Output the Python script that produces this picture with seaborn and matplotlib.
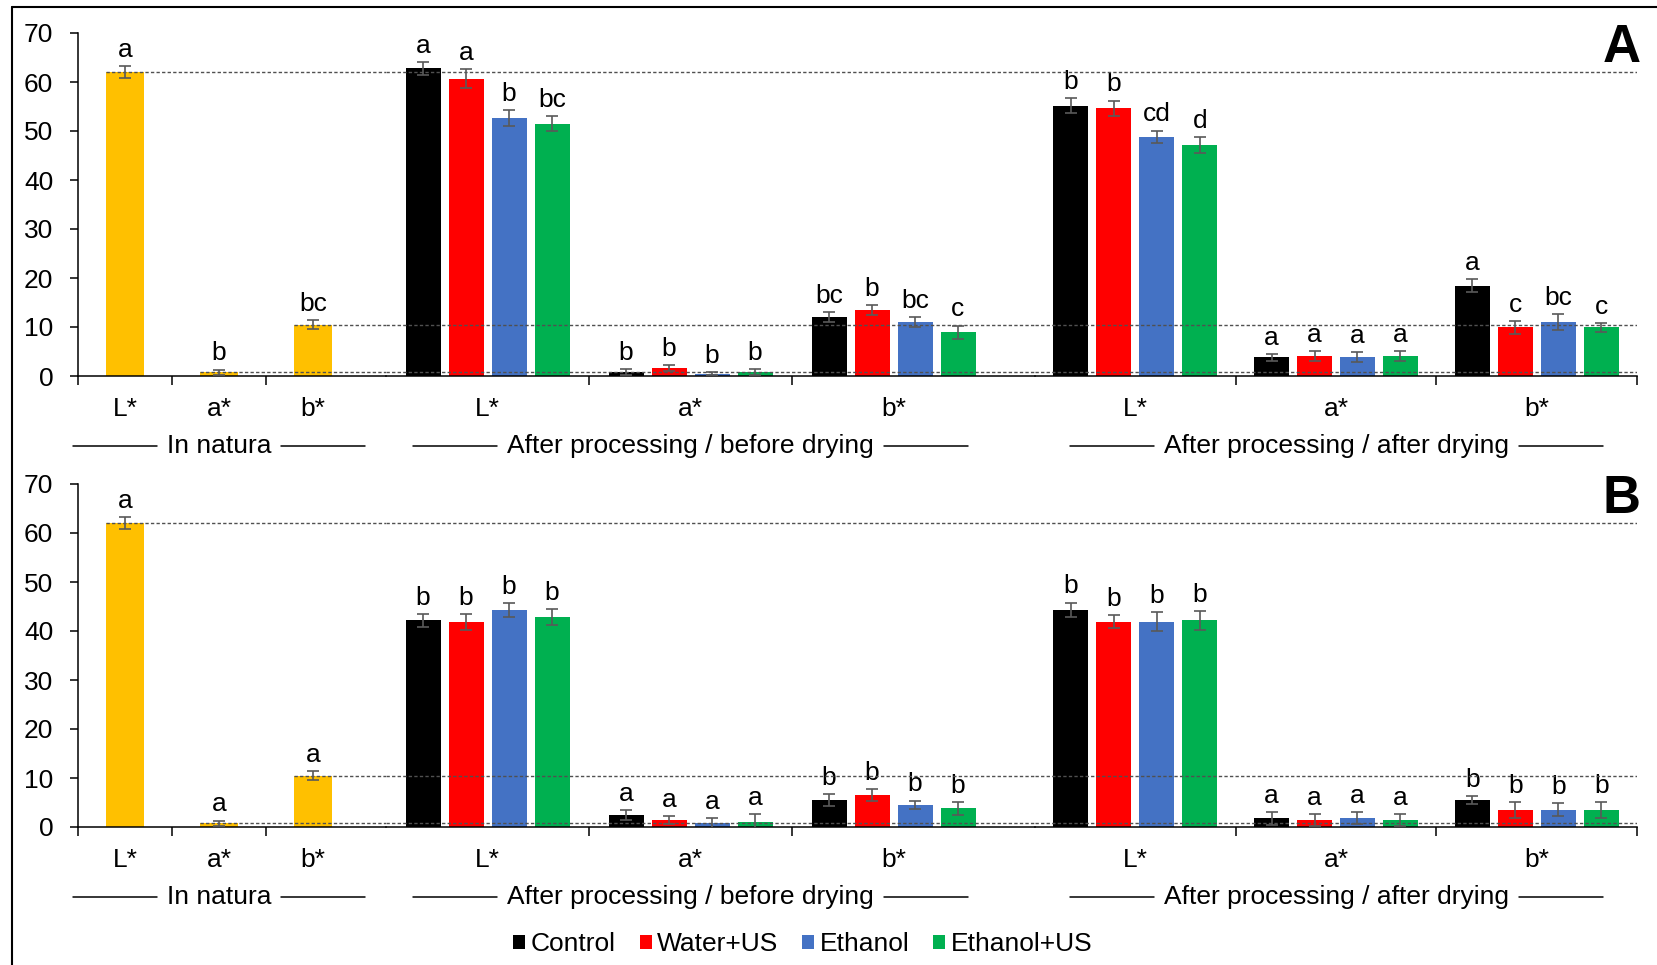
import pandas as pd
import matplotlib.pyplot as plt
from matplotlib.lines import Line2D
from matplotlib.patches import Patch
import seaborn as sns

sns.set_style("ticks")
plt.rcParams.update(
    {
        "font.family": ["Liberation Sans", "DejaVu Sans"],
        "font.size": 19,
        "axes.linewidth": 1.1,
        "axes.edgecolor": "black",
        "text.color": "black",
        "xtick.color": "black",
        "ytick.color": "black",
    }
)

# ── Data ──────────────────────────────────────────────────────────────────────
ATTRS = ["L*", "a*", "b*"]
TREATMENTS = ["Control", "Water+US", "Ethanol", "Ethanol+US"]
STAGES = ["In natura", "After processing / before drying", "After processing / after drying"]

NATURA_MEAN = [62.0, 0.8, 10.5]
NATURA_SD = [1.2, 0.5, 0.9]
A_NATURA_LET = ["a", "b", "bc"]
B_NATURA_LET = ["a", "a", "a"]

# rows = treatments, cols = L*, a*, b*
A_BEFORE_MEAN = [[62.8, 0.75, 12.0], [60.7, 1.6, 13.4], [52.6, 0.5, 11.0], [51.5, 0.75, 8.9]]
A_BEFORE_SD = [[1.3, 0.6, 1.0], [1.9, 0.6, 1.0], [1.6, 0.3, 1.0], [1.5, 0.6, 1.4]]
A_BEFORE_LET = [["a", "b", "bc"], ["a", "b", "b"], ["b", "b", "bc"], ["bc", "b", "c"]]
A_AFTER_MEAN = [[55.2, 3.8, 18.4], [54.6, 4.15, 9.9], [48.8, 3.8, 11.0], [47.1, 4.15, 9.9]]
A_AFTER_SD = [[1.6, 0.7, 1.3], [1.6, 1.0, 1.3], [1.3, 1.0, 1.7], [1.6, 1.0, 0.95]]
A_AFTER_LET = [["b", "a", "a"], ["b", "a", "c"], ["cd", "a", "bc"], ["d", "a", "c"]]

B_BEFORE_MEAN = [[42.2, 2.45, 5.5], [41.9, 1.4, 6.5], [44.3, 0.75, 4.5], [42.9, 1.1, 3.8]]
B_BEFORE_SD = [[1.3, 0.95, 1.2], [1.6, 0.8, 1.2], [1.4, 1.1, 0.9], [1.6, 1.5, 1.3]]
B_BEFORE_LET = [["b", "a", "b"]] * 4
B_AFTER_MEAN = [[44.3, 1.8, 5.5], [41.9, 1.4, 3.5], [41.9, 1.8, 3.5], [42.2, 1.4, 3.5]]
B_AFTER_SD = [[1.5, 1.3, 0.8], [1.3, 1.2, 1.6], [1.9, 1.2, 1.3], [1.9, 1.2, 1.6]]
B_AFTER_LET = [["b", "a", "b"]] * 4

# ── Palette / layout ──────────────────────────────────────────────────────────
C_NATURA = "#FFC000"
PALETTE = ["#000000", "#FF0000", "#4472C4", "#00B050"]
C_ERR = "#595959"
C_REF = "#505050"

W, H = 1657, 965
# region pixel extents and category slot width (px)
REGIONS = [(78, 386, 94.0), (386, 1035, 203.0), (1035, 1637, 200.7)]
BAR_STEP, BAR_W = 43.0, 35.0
FS = 19


def fx(px):
    return px / W


def fy(py):
    return 1 - py / H


def long_frame(mean, sd, letters):
    rows = []
    for t, m_row, s_row, l_row in zip(TREATMENTS, mean, sd, letters):
        for a, m, s, l in zip(ATTRS, m_row, s_row, l_row):
            rows.append({"treatment": t, "attr": a, "value": m, "sd": s, "letter": l})
    return pd.DataFrame(rows)


def annotate(ax, container, sds, letters):
    for bar, s, l in zip(container, sds, letters):
        cx = bar.get_x() + bar.get_width() / 2
        h = bar.get_height()
        ax.errorbar(cx, h, yerr=s, fmt="none", ecolor=C_ERR, elinewidth=1.2,
                    capsize=4, capthick=1.2, zorder=5)
        ax.annotate(l, (cx, h + s), xytext=(0, 3), textcoords="offset points",
                    ha="center", va="bottom", fontsize=FS)


group_texts = []


def draw_panel(top, bottom, tag, natura_let, before, after):
    for k, (x0, x1, slot) in enumerate(REGIONS):
        ax = fig.add_axes([fx(x0), fy(bottom), fx(x1) - fx(x0), fy(top) - fy(bottom)])
        ax.patch.set_alpha(0)
        if k == 0:
            df = pd.DataFrame({"attr": ATTRS, "value": NATURA_MEAN})
            sns.barplot(data=df, x="attr", y="value", order=ATTRS, color=C_NATURA,
                        width=0.4, errorbar=None, saturation=1, linewidth=0, ax=ax)
            annotate(ax, list(ax.containers)[0], NATURA_SD, natura_let)
        else:
            mean, sd, let = before if k == 1 else after
            df = long_frame(mean, sd, let)
            sns.barplot(data=df, x="attr", y="value", hue="treatment", order=ATTRS,
                        hue_order=TREATMENTS, palette=PALETTE, width=4 * BAR_STEP / slot,
                        gap=1 - BAR_W / BAR_STEP, errorbar=None, saturation=1,
                        linewidth=0, legend=False, ax=ax)
            bar_conts = list(ax.containers)
            for i, cont in enumerate(bar_conts):
                sub = df[df["treatment"] == TREATMENTS[i]].set_index("attr").loc[ATTRS]
                annotate(ax, cont, sub["sd"].tolist(), sub["letter"].tolist())

        xmax = -0.5 + (x1 - x0) / slot
        ax.set_xlim(-0.5, xmax)
        ax.set_ylim(0, 70)
        ax.set_xlabel("")
        ax.set_ylabel("")

        # reference lines from the in natura means
        for j, ref in enumerate(NATURA_MEAN):
            xs = j - 0.2 if k == 0 else -0.5
            ax.hlines(ref, xs, xmax, colors=C_REF, linewidth=1.0,
                      linestyles=(0, (2.4, 1.6)), zorder=4)

        if k == 0:
            major = [-0.5, 0.5, 1.5]
        elif k == 1:
            major = [0.5, 1.5]
        else:
            major = [0.5, 1.5, 2.5]
        ax.set_xticks(major)
        ax.set_xticklabels([""] * len(major))
        ax.set_xticks(range(len(ATTRS)), minor=True)
        ax.set_xticklabels(ATTRS, minor=True, fontsize=FS)
        ax.tick_params(axis="x", which="major", length=6.5, width=1.1, direction="out")
        ax.tick_params(axis="x", which="minor", length=0, pad=15)

        ax.spines["top"].set_visible(False)
        ax.spines["right"].set_visible(False)
        if k == 0:
            ax.set_yticks(range(0, 71, 10))
            ax.tick_params(axis="y", length=5.8, width=1.1, pad=12, labelsize=FS)
        else:
            ax.spines["left"].set_visible(False)
            ax.set_yticks([])

        t = ax.text(1.0, -77 / (bottom - top), STAGES[k],
                    transform=ax.get_xaxis_transform(), ha="center", va="baseline",
                    fontsize=FS)
        group_texts.append((t, bottom + 70))

    fig.text(fx(1622), fy(top + 29), tag, ha="center", va="baseline",
             fontsize=38, fontweight="bold")


fig = plt.figure(figsize=(W / 100, H / 100), dpi=100)

draw_panel(33, 376, "A", A_NATURA_LET,
           (A_BEFORE_MEAN, A_BEFORE_SD, A_BEFORE_LET),
           (A_AFTER_MEAN, A_AFTER_SD, A_AFTER_LET))
draw_panel(484, 827, "B", B_NATURA_LET,
           (B_BEFORE_MEAN, B_BEFORE_SD, B_BEFORE_LET),
           (B_AFTER_MEAN, B_AFTER_SD, B_AFTER_LET))

# flanking rules beside the stage labels
fig.canvas.draw()
renderer = fig.canvas.get_renderer()
for t, ypx in group_texts:
    bb = t.get_window_extent(renderer)
    for xa, xb in ((bb.x0 - 94, bb.x0 - 10), (bb.x1 + 10, bb.x1 + 94)):
        fig.add_artist(Line2D([xa / W, xb / W], [fy(ypx), fy(ypx)], color="black",
                              linewidth=1.1, transform=fig.transFigure))

handles = [Patch(facecolor=c, edgecolor="none") for c in PALETTE]
fig.legend(handles, TREATMENTS, loc="center", bbox_to_anchor=(fx(803), fy(944)),
           ncol=4, frameon=False, handlelength=0.45, handleheight=0.45,
           handletextpad=0.22, columnspacing=0.9, borderpad=0, fontsize=FS)

# outer frame (left and top edges)
fig.add_artist(Line2D([fx(12), fx(12)], [0, fy(7)], color="black", linewidth=1.5,
                      transform=fig.transFigure))
fig.add_artist(Line2D([fx(12), 1], [fy(7), fy(7)], color="black", linewidth=1.5,
                      transform=fig.transFigure))

fig.savefig("out.png", dpi=100)
